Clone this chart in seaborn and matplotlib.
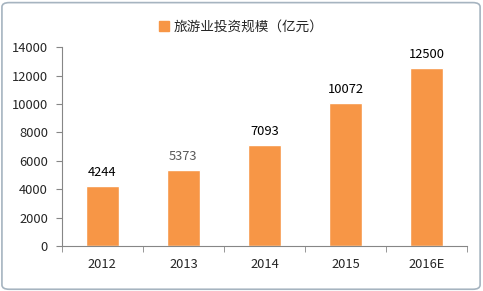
import matplotlib
matplotlib.use("Agg")
import matplotlib.pyplot as plt
import seaborn as sns
import pandas as pd
from matplotlib.patches import FancyBboxPatch, Patch

years = ["2012", "2013", "2014", "2015", "2016E"]
values = [4244, 5373, 7093, 10072, 12500]
series_name = "旅游业投资规模（亿元）"
yticks = [0, 2000, 4000, 6000, 8000, 10000, 12000, 14000]

sns.set_style("white")
plt.rcParams['font.family'] = ['Noto Sans CJK SC', 'DejaVu Sans']

df = pd.DataFrame({"year": years, "value": values})
color = "#F79646"
fs = 9.3

fig = plt.figure(figsize=(4.83, 2.91), dpi=100)
ax = fig.add_axes([0.128, 0.155, 0.839, 0.683])
sns.barplot(data=df, x="year", y="value", color=color, width=0.41, ax=ax,
            saturation=1)

ax.set_ylim(0, 14000)
ax.set_xlim(-0.5, 4.5)
ax.set_yticks(yticks)
ax.set_yticklabels([str(t) for t in yticks], fontsize=fs)
ax.set_xlabel("")
ax.set_ylabel("")
for s in ["top", "right"]:
    ax.spines[s].set_visible(False)
for s in ["left", "bottom"]:
    ax.spines[s].set_color("#868686")
    ax.spines[s].set_linewidth(0.8)
ax.tick_params(axis="y", length=4, color="#868686", direction="out", pad=6, left=True)
ax.tick_params(axis="x", which="major", length=0, pad=9, labelsize=fs)
ax.set_xticks([i + 0.5 for i in range(-1, len(years))], minor=True)
ax.tick_params(axis="x", which="minor", length=4, color="#868686", direction="out", bottom=True)

for i, (c, v) in enumerate(zip(ax.patches, values)):
    ax.text(c.get_x() + c.get_width() / 2, v + 500, str(v), ha="center", va="bottom",
            fontsize=fs, color="#595959" if i == 1 else "black")

leg = fig.legend(handles=[Patch(color=color, label=series_name)], loc="upper center",
                 bbox_to_anchor=(0.5, 0.975), frameon=False, fontsize=9.8,
                 handlelength=0.7, handleheight=0.7, handletextpad=0.4)

border = FancyBboxPatch((0.004, 0.006), 0.99, 0.985, boxstyle="round,pad=0,rounding_size=0.015",
                        transform=fig.transFigure, fill=False, edgecolor="#A6B4C0", linewidth=1.2)
fig.patches.append(border)

fig.savefig("out.png", dpi=100)
